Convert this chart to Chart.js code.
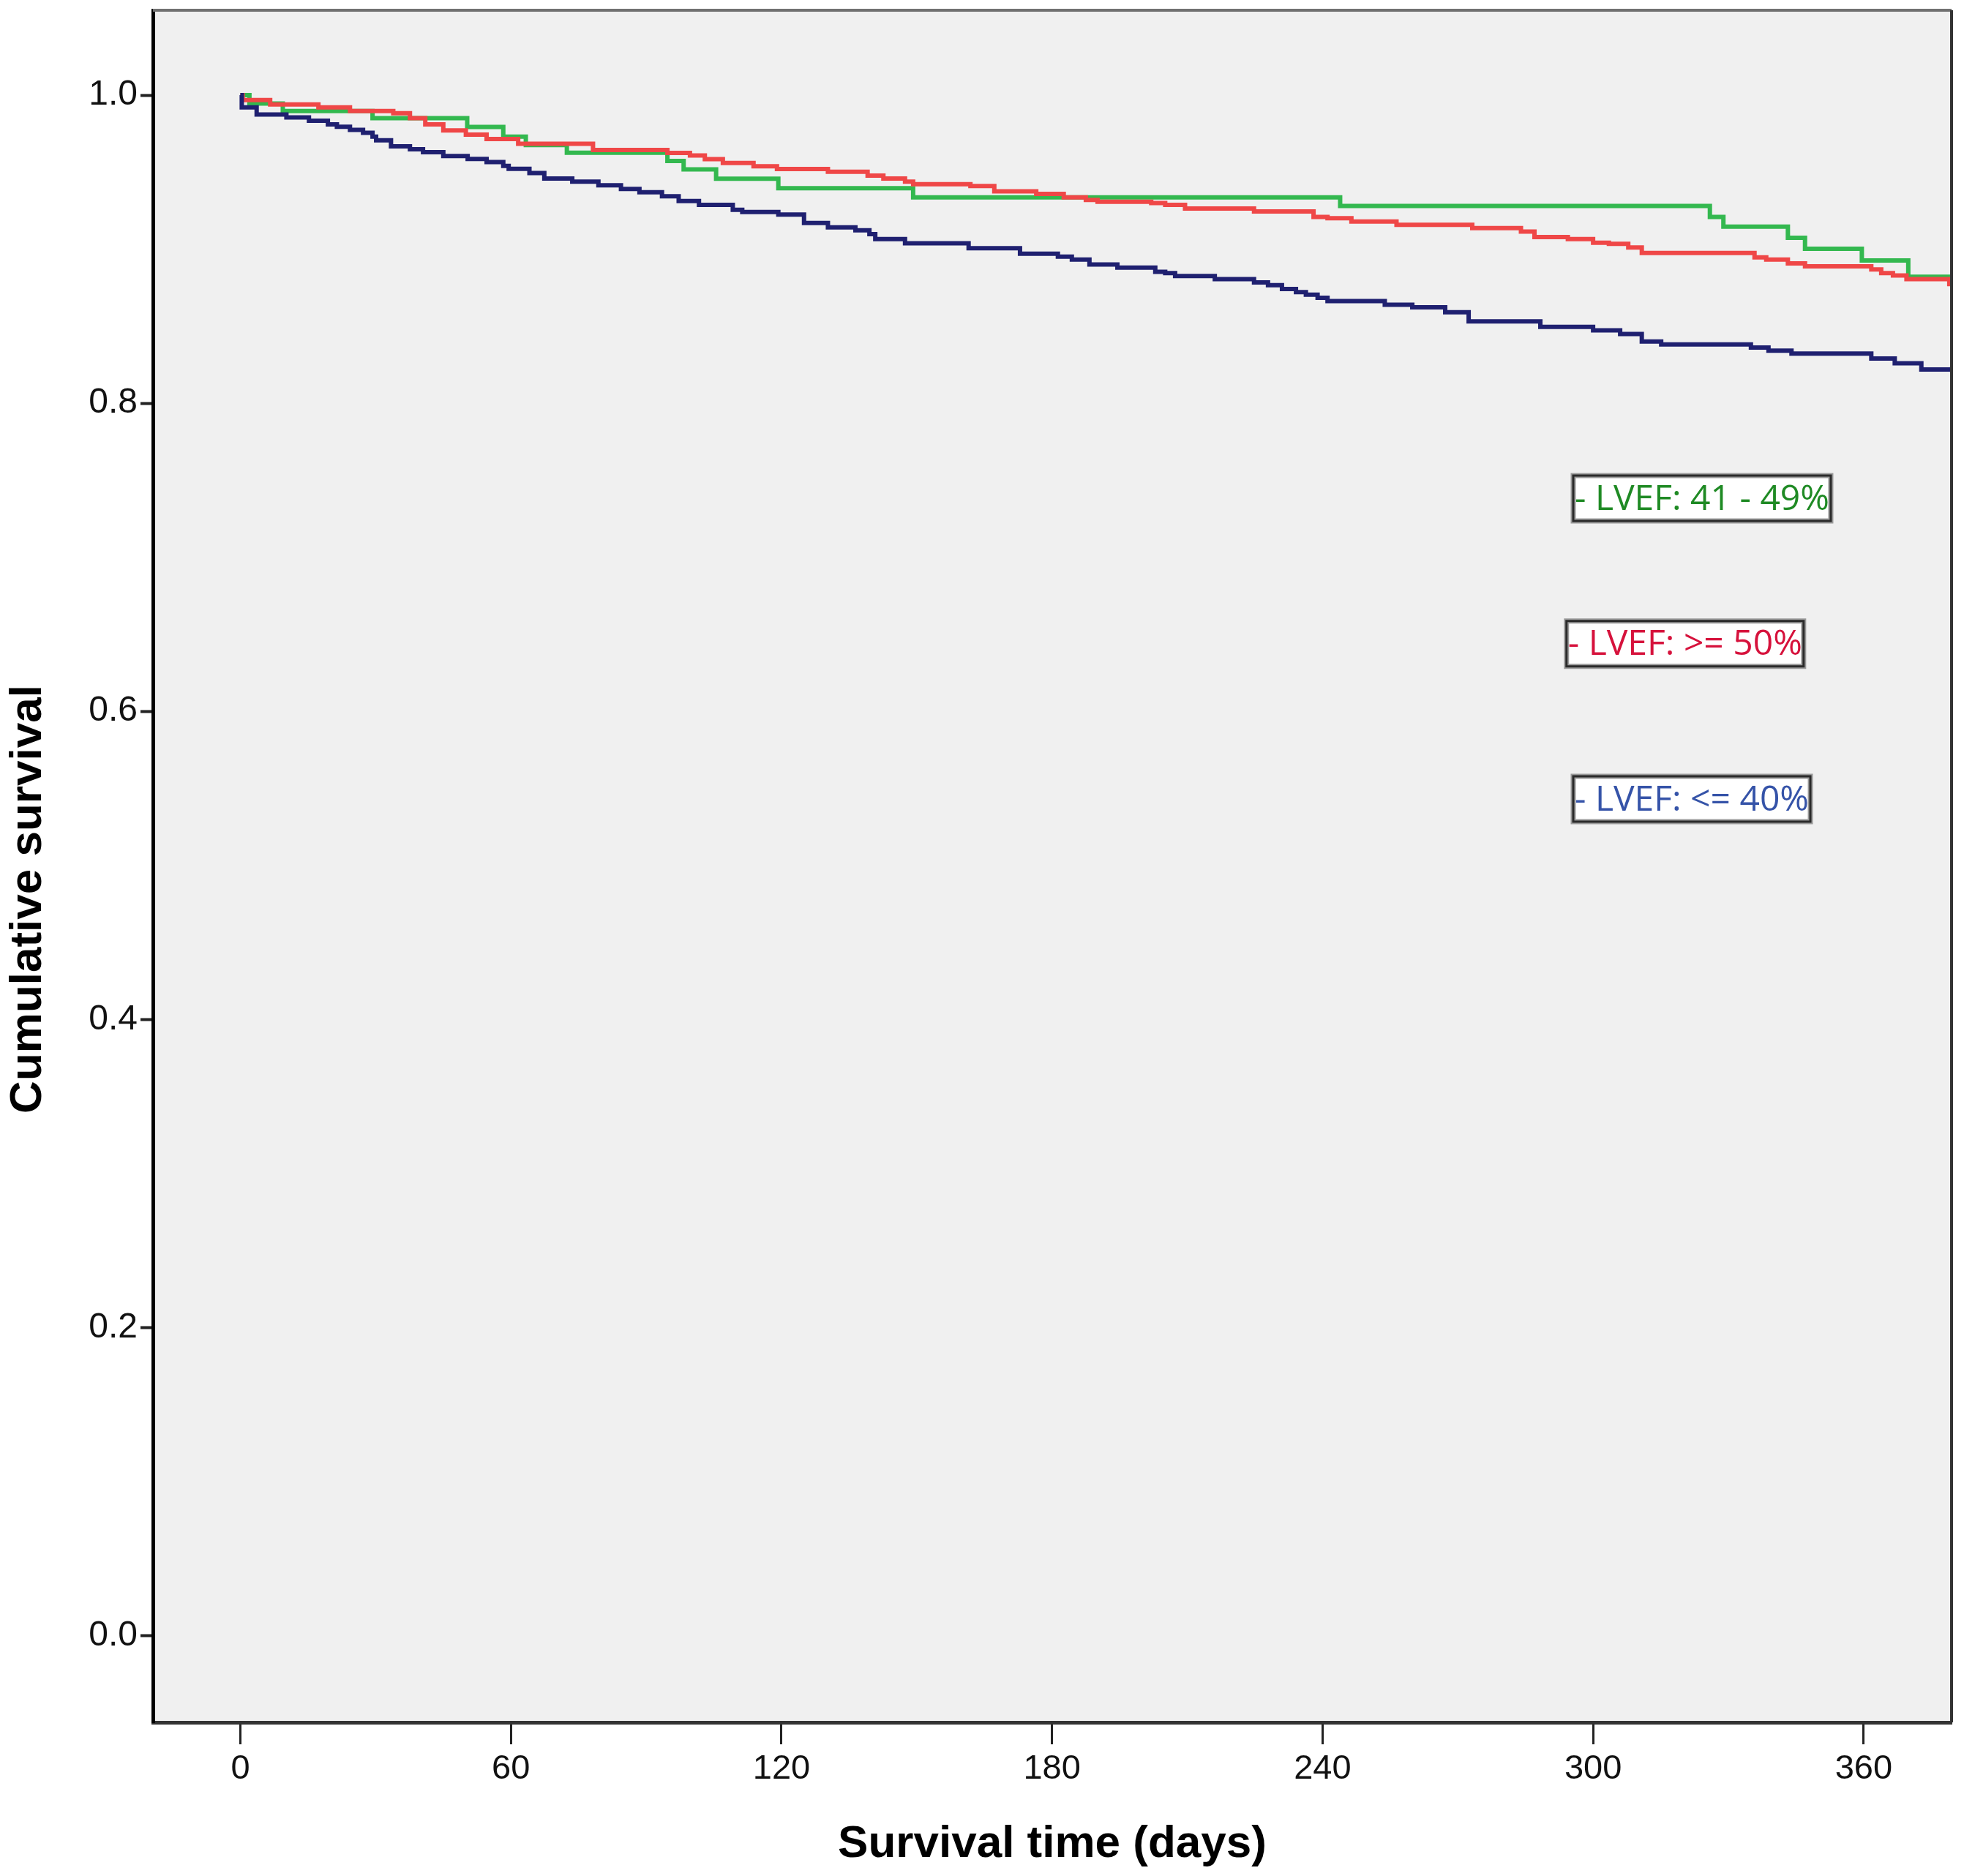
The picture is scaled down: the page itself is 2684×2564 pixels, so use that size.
<!DOCTYPE html>
<html>
<head>
<meta charset="utf-8">
<script src="https://cdn.jsdelivr.net/npm/chart.js@4.4.1/dist/chart.umd.min.js"></script>
<style>
  html, body { margin: 0; padding: 0; background: #fff; }
  canvas { display: block; }
</style>
</head>
<body>
<canvas id="kmChart" width="2684" height="2564"></canvas>
<script>
// Kaplan-Meier survival by LVEF group — step curves

// ── Axis ticks ────────────────────────────────────────────
const xTicks = [0, 60, 120, 180, 240, 300, 360];
const yTicks = [0, 0.2, 0.4, 0.6, 0.8, 1.0];
const yTitle = "Cumulative survival";

// ── Group labels (legend boxes) ───────────────────────────
const groupLabels = ["LVEF: 41 - 49%", "LVEF: >= 50%", "LVEF: <= 40%"];

// ── LVEF 41-49% (green) ───────────────────────────────────
const midDays = [0, 2, 9.4, 29.3, 50.3, 58.3, 63.3, 72.4, 94.7, 98.3, 105.5, 119.3,
  149.2, 243.9, 325.9, 328.9, 343.2, 347, 359.6, 369.9, 380];
const midSurv = [1.0, 0.9945, 0.9897, 0.985, 0.9794, 0.973, 0.9676, 0.9626, 0.9573, 0.9518, 0.9458, 0.9396,
  0.9336, 0.928, 0.9209, 0.9146, 0.9074, 0.9003, 0.8927, 0.8821, 0.8821];

// ── LVEF >= 50% (red) ─────────────────────────────────────
const highDays = [0, 0.5, 6.6, 17.3, 24.3, 33.9, 37.6, 41, 45, 50, 54.6, 61.6, 78.2, 94.7, 99.7,
  103, 107, 113.8, 119, 130.3, 139.1, 142.6, 147.4, 149.2, 161.9, 167.2, 176.5, 182.6, 187.5,
  190.1, 202, 205.1, 209.5, 224.8, 238, 241.1, 246.4, 256.4, 273.2, 284, 287, 294.4, 300,
  303.5, 307.8, 310.8, 335.8, 338.4, 343.2, 347, 361.7, 363.9, 366.5, 369.5, 379, 380];
const highSurv = [1.0, 0.9968, 0.994, 0.9921, 0.9897, 0.9882, 0.985, 0.981, 0.9771, 0.9744, 0.9715, 0.9684, 0.9644, 0.9625, 0.9608,
  0.9584, 0.956, 0.9538, 0.952, 0.9502, 0.9478, 0.9459, 0.9439, 0.9422, 0.941, 0.9375, 0.9359, 0.9336, 0.932,
  0.9308, 0.93, 0.9288, 0.9264, 0.9245, 0.9209, 0.9201, 0.918, 0.9158, 0.9137, 0.9114, 0.9079, 0.9066, 0.9042,
  0.9035, 0.9011, 0.8975, 0.8947, 0.8932, 0.8908, 0.8889, 0.8869, 0.8845, 0.8829, 0.8805, 0.8774, 0.8774];

// ── LVEF <= 40% (navy) ────────────────────────────────────
const lowDays = [0, 0.3, 3.6, 10.2, 15.2, 19.4, 21.4, 24.3, 27.2, 29.3, 30.1, 33.4, 37.6, 40.5, 45,
  50.4, 54.6, 58.3, 59.5, 64.1, 67.4, 73.6, 79.4, 84.4, 88.5, 93.5, 97.2, 101.7, 109.2, 111.3,
  119.3, 125, 130.3, 136.4, 139.5, 140.8, 147.4, 161.5, 172.9, 181.3, 184.4, 188.3, 194.5, 202.9,
  205.1, 207.3, 216.1, 224.8, 227.9, 231, 234.1, 236.3, 238.9, 241.1, 253.8, 259.9, 267.2, 272.4,
  288.3, 300, 306, 310.8, 315.1, 335, 338.9, 344, 361.7, 366.9, 372.8, 380];
const lowSurv = [1.0, 0.9921, 0.9874, 0.9855, 0.9834, 0.981, 0.9795, 0.9774, 0.9755, 0.9731, 0.9707, 0.9668, 0.9648, 0.9629, 0.9605,
  0.9586, 0.9565, 0.9541, 0.9521, 0.9494, 0.9459, 0.9439, 0.9415, 0.9391, 0.937, 0.9344, 0.9312, 0.9288, 0.9256, 0.9241,
  0.9225, 0.917, 0.9141, 0.9122, 0.9098, 0.9066, 0.9038, 0.9006, 0.8971, 0.8952, 0.8932, 0.89, 0.888, 0.8853,
  0.8845, 0.8826, 0.8805, 0.8784, 0.8766, 0.8742, 0.8721, 0.8705, 0.8685, 0.8663, 0.8639, 0.8623, 0.8591, 0.8531,
  0.8496, 0.8473, 0.8449, 0.8401, 0.8382, 0.8362, 0.8341, 0.8322, 0.829, 0.8259, 0.8219, 0.8219];

function toPoints(days, surv) {
  return days.map((d, i) => ({ x: d, y: surv[i] }));
}

// grey plot panel, top/right frame and the y title (sits a bit below centre)
const panelPlugin = {
  id: "panel",
  beforeDraw(chart) {
    const { ctx, chartArea: a } = chart;
    ctx.save();
    ctx.fillStyle = "#f0f0f0";
    ctx.fillRect(a.left, a.top, a.right - a.left, a.bottom - a.top);
    ctx.restore();
  },
  afterDatasetsDraw(chart) {
    const { ctx, chartArea: a } = chart;
    ctx.save();
    ctx.strokeStyle = "#707070";
    ctx.lineWidth = 4;
    ctx.beginPath();
    ctx.moveTo(a.left, a.top);
    ctx.lineTo(a.right, a.top);
    ctx.stroke();
    ctx.strokeStyle = "#333";
    ctx.beginPath();
    ctx.moveTo(a.right, a.top);
    ctx.lineTo(a.right, a.bottom);
    ctx.stroke();

    ctx.translate(39, 1229);
    ctx.rotate(-Math.PI / 2);
    ctx.fillStyle = "#000";
    ctx.font = "bold 62px 'Liberation Sans', Arial, sans-serif";
    ctx.textAlign = "center";
    ctx.textBaseline = "middle";
    ctx.fillText(yTitle, 0, 0);
    ctx.restore();
  },
};

// boxed labels placed at data coordinates
const labelBoxPlugin = {
  id: "labelBoxes",
  afterDatasetsDraw(chart, args, opts) {
    const { ctx, scales } = chart;
    ctx.save();
    ctx.font = "48px 'Open Sans', 'Noto Sans', sans-serif";
    ctx.textBaseline = "middle";
    opts.boxes.forEach((b) => {
      const text = "- " + groupLabels[b.idx];
      const left = scales.x.getPixelForValue(b.day);
      const cy = scales.y.getPixelForValue(b.surv);
      const w = ctx.measureText(text).width + 4;
      const h = 62;
      ctx.fillStyle = "#fff";
      ctx.fillRect(left, cy - h / 2, w, h);
      ctx.strokeStyle = "#9a9a9a";
      ctx.lineWidth = 7;
      ctx.strokeRect(left, cy - h / 2, w, h);
      ctx.strokeStyle = "#2a2a2a";
      ctx.lineWidth = 3;
      ctx.strokeRect(left, cy - h / 2, w, h);
      ctx.fillStyle = b.color;
      ctx.fillText(text, left + 2, cy + 2);
    });
    ctx.restore();
  },
};

new Chart(document.getElementById("kmChart"), {
  type: "line",
  data: {
    datasets: [
      {
        label: groupLabels[2],
        data: toPoints(lowDays, lowSurv),
        borderColor: "#1f2070",
        borderWidth: 6,
        stepped: "before",
        pointRadius: 0,
        fill: false,
      },
      {
        label: groupLabels[1],
        data: toPoints(highDays, highSurv),
        borderColor: "#ef4747",
        borderWidth: 6,
        stepped: "before",
        pointRadius: 0,
        fill: false,
      },
      {
        label: groupLabels[0],
        data: toPoints(midDays, midSurv),
        borderColor: "#33b84f",
        borderWidth: 6,
        stepped: "before",
        pointRadius: 0,
        fill: false,
      },
    ],
  },
  options: {
    responsive: false,
    devicePixelRatio: 1,
    animation: false,
    layout: { padding: { top: 14, right: 17, left: 0, bottom: 0 } },
    plugins: {
      legend: { display: false },
      tooltip: { enabled: false },
      labelBoxes: {
        boxes: [
          { idx: 0, day: 295.6, surv: 0.7383, color: "#1f8a24" },
          { idx: 1, day: 294.1, surv: 0.6439, color: "#d6123c" },
          { idx: 2, day: 295.6, surv: 0.5431, color: "#3553a8" },
        ],
      },
    },
    scales: {
      x: {
        type: "linear",
        min: -19.4,
        max: 379.5,
        afterBuildTicks: (scale) => { scale.ticks = xTicks.map((v) => ({ value: v })); },
        afterFit: (scale) => {
          scale.height = 210;
          scale.paddingLeft = 0;
          scale.paddingRight = 0;
        },
        grid: {
          drawOnChartArea: false,
          drawTicks: true,
          tickLength: 30,
          tickWidth: 3,
          tickColor: "#222",
        },
        border: { display: true, color: "#333", width: 5 },
        ticks: {
          color: "#111",
          padding: 6,
          maxRotation: 0,
          font: { family: "'Liberation Sans', Arial, sans-serif", size: 47 },
        },
        title: {
          display: true,
          text: "Survival time (days)",
          color: "#000",
          padding: { top: 0, bottom: 6 },
          font: { family: "'Liberation Sans', Arial, sans-serif", size: 62, weight: "bold" },
        },
      },
      y: {
        min: -0.0563,
        max: 1.0551,
        afterBuildTicks: (scale) => { scale.ticks = yTicks.map((v) => ({ value: v })); },
        afterFit: (scale) => {
          scale.width = 209;
          scale.paddingTop = 0;
          scale.paddingBottom = 0;
        },
        grid: {
          drawOnChartArea: false,
          drawTicks: true,
          tickLength: 17,
          tickWidth: 4,
          tickColor: "#222",
        },
        border: { display: true, color: "#000", width: 5 },
        ticks: {
          color: "#111",
          padding: 4,
          callback: (v) => Number(v).toFixed(1),
          font: { family: "'Liberation Sans', Arial, sans-serif", size: 48 },
        },
        title: { display: false },
      },
    },
  },
  plugins: [panelPlugin, labelBoxPlugin],
});
</script>
</body>
</html>
